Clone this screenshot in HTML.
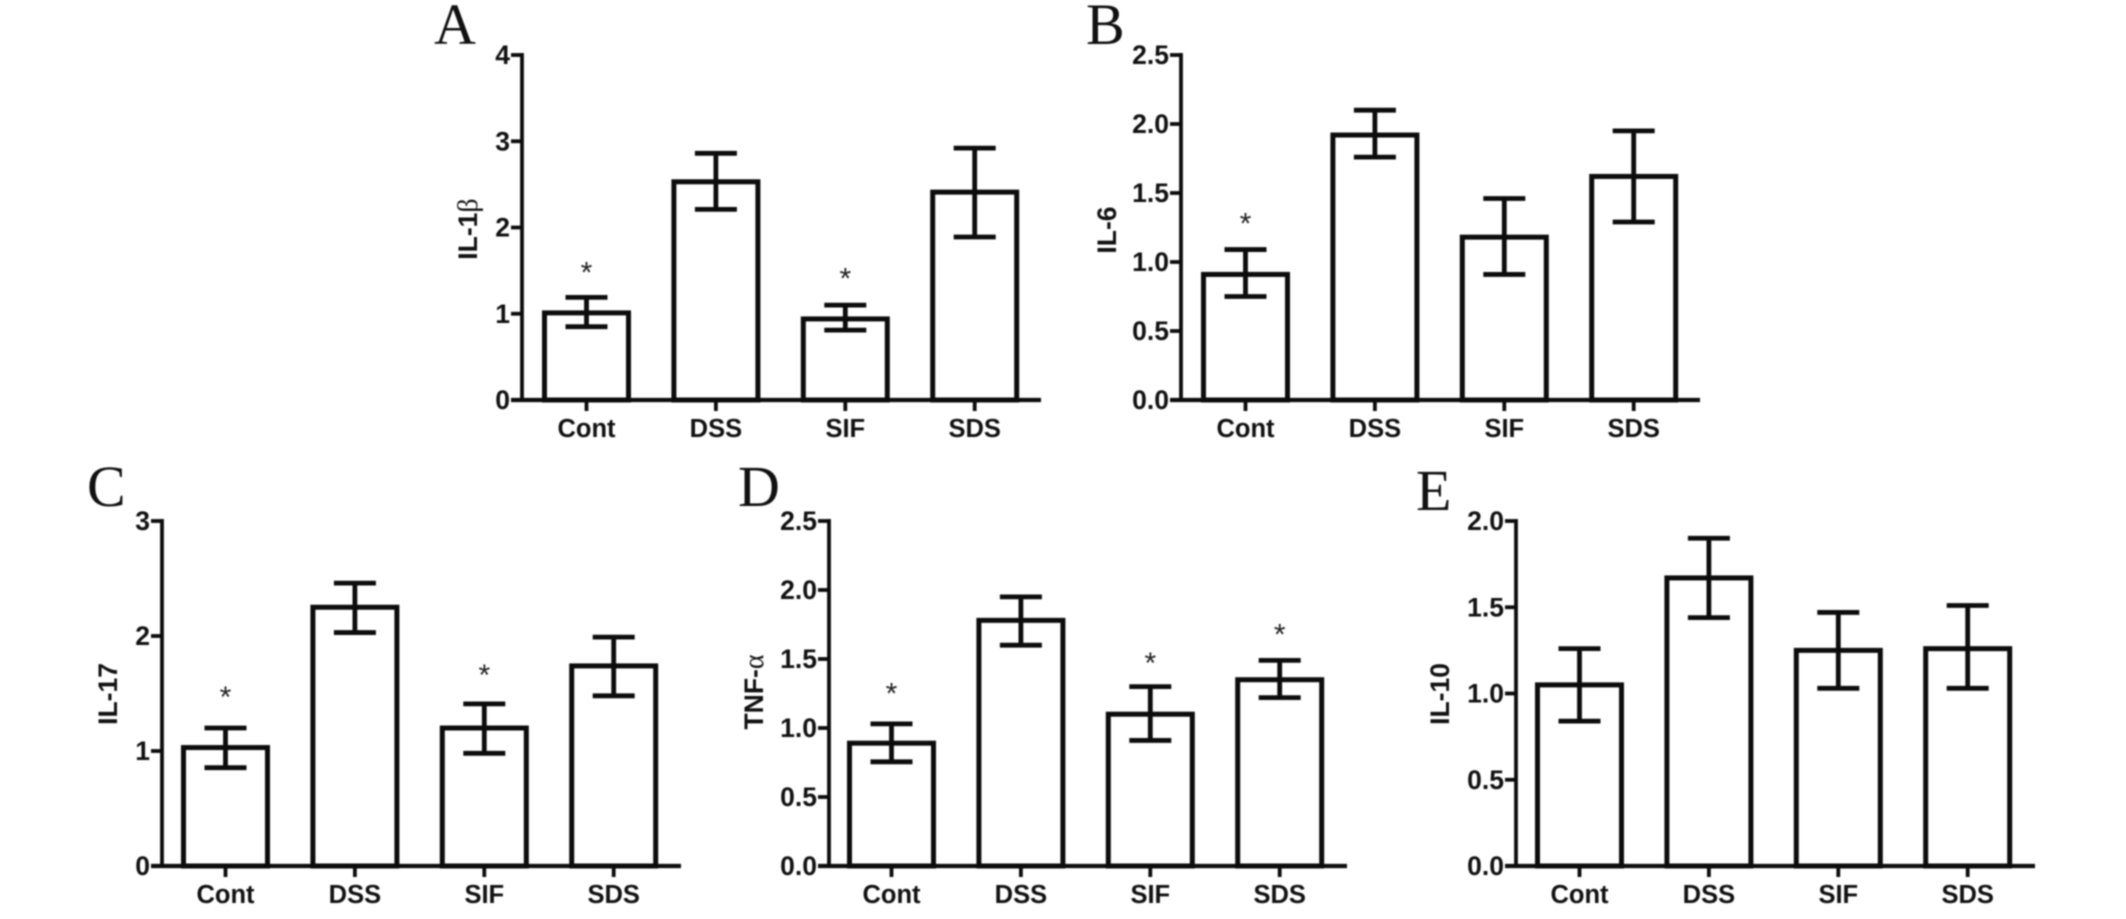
<!DOCTYPE html>
<html lang="en">
<head>
<meta charset="utf-8">
<title>Cytokine bar charts</title>
<style>
  html, body { margin: 0; padding: 0; background: #fff; }
  body { width: 2126px; height: 919px; overflow: hidden; }
  svg { display: block; filter: blur(0.7px); }
  .tick { font: bold 25.5px "Liberation Sans", sans-serif; fill: #111; }
  .ytick { font: bold 26.5px "Liberation Sans", sans-serif; fill: #111; }
  .ytitle { font: bold 26.5px "Liberation Sans", sans-serif; fill: #111; }
  .greek { font: normal 28px "Liberation Serif", "DejaVu Serif", serif; }
  .letter { font: normal 58px "Liberation Serif", serif; fill: #111; }
  .star { font: normal 30px "Liberation Sans", sans-serif; fill: #222; }
</style>
</head>
<body>
<svg id="figure" xmlns="http://www.w3.org/2000/svg" width="2126" height="919" viewBox="0 0 2126 919">
  <rect width="2126" height="919" fill="#fff"/>
</svg>
<script>
const categories = ["Cont", "DSS", "SIF", "SDS"];

const il1bTicks = ["0", "1", "2", "3", "4"];
const il1bMeans = [1.01, 2.53, 0.94, 2.41];
const il1bUpper = [1.19, 2.86, 1.10, 2.92];
const il1bLower = [0.85, 2.21, 0.81, 1.89];
const il1bStars = [1.56, null, 1.49, null];

const il6Ticks = ["0.0", "0.5", "1.0", "1.5", "2.0", "2.5"];
const il6Means = [0.91, 1.92, 1.18, 1.62];
const il6Upper = [1.09, 2.10, 1.46, 1.95];
const il6Lower = [0.75, 1.76, 0.91, 1.29];
const il6Stars = [1.33, null, null, null];

const il17Ticks = ["0", "1", "2", "3"];
const il17Means = [1.03, 2.25, 1.20, 1.74];
const il17Upper = [1.20, 2.46, 1.41, 1.99];
const il17Lower = [0.855, 2.03, 0.98, 1.48];
const il17Stars = [1.53, null, 1.72, null];

const tnfTicks = ["0.0", "0.5", "1.0", "1.5", "2.0", "2.5"];
const tnfMeans = [0.89, 1.78, 1.10, 1.35];
const tnfUpper = [1.03, 1.95, 1.30, 1.49];
const tnfLower = [0.755, 1.60, 0.91, 1.22];
const tnfStars = [1.30, null, 1.52, 1.73];

const il10Ticks = ["0.0", "0.5", "1.0", "1.5", "2.0"];
const il10Means = [1.05, 1.67, 1.25, 1.26];
const il10Upper = [1.26, 1.90, 1.47, 1.51];
const il10Lower = [0.84, 1.44, 1.03, 1.03];
const il10Stars = [null, null, null, null];

const NS = "http://www.w3.org/2000/svg";
const figure = document.getElementById("figure");
const INK = "#0c0c0c";

function make(parent, tag, attrs, text) {
  const el = document.createElementNS(NS, tag);
  for (const k in attrs) el.setAttribute(k, attrs[k]);
  if (text !== undefined) el.textContent = text;
  parent.appendChild(el);
  return el;
}

function drawPanel(p) {
  const g = make(figure, "g", {});
  
  

  const maxTick = parseFloat(p.ticks[p.ticks.length - 1]);
  const yScale = v => p.base - (v / maxTick) * (p.base - p.top);
  const xScale = i => p.x0 + i * 129.4;

  const letter = make(g, "text", { x: p.lx, y: p.ly, class: "letter" }, p.letter);
  
  

  categories.forEach((cat, i) => {
    const cx = xScale(i);
    const yTop = yScale(p.means[i]);
    const bar = make(g, "rect", {
      x: cx - 42, y: yTop, width: 84, height: p.base - yTop,
      fill: "#fff", stroke: INK, "stroke-width": 5
    });
    
    

    const yHi = yScale(p.upper[i]);
    const yLo = yScale(p.lower[i]);
    const err = make(g, "path", {
      d: "M" + (cx - 21) + " " + yHi + "H" + (cx + 21) +
         "M" + cx + " " + yHi + "V" + yLo +
         "M" + (cx - 21) + " " + yLo + "H" + (cx + 21),
      fill: "none", stroke: INK, "stroke-width": 4.8
    });
    
    

    if (p.stars[i] !== null) {
      const star = make(g, "text", {
        x: cx, y: yScale(p.stars[i]) + 17, "text-anchor": "middle", class: "star"
      }, "*");
      
      
    }

    const xt = make(g, "line", {
      x1: cx, x2: cx, y1: p.base, y2: p.base + 11, stroke: INK, "stroke-width": 3.8
    });
    
    

    const xl = make(g, "text", {
      x: cx, y: p.base + 37, "text-anchor": "middle", class: "tick"
    }, cat);
    
    
  });

  const yAxis = make(g, "line", {
    x1: p.axis, x2: p.axis, y1: p.top - 2, y2: p.base + 2, stroke: INK, "stroke-width": 3.8
  });
  
  

  const xAxis = make(g, "line", {
    x1: p.axis - 11, x2: p.end, y1: p.base, y2: p.base, stroke: INK, "stroke-width": 4.2
  });
  
  

  p.ticks.forEach(label => {
    const y = yScale(parseFloat(label));
    const yt = make(g, "line", {
      x1: p.axis - 11, x2: p.axis, y1: y, y2: y, stroke: INK, "stroke-width": 3.8
    });
    
    

    const yl = make(g, "text", {
      x: p.axis - 12, y: y + 9, "text-anchor": "end", class: "ytick"
    }, label);
    
    
  });

  const title = make(g, "text", {
    transform: "translate(" + p.tx + " " + p.ty + ") rotate(-90)",
    "text-anchor": "middle", class: "ytitle"
  }, p.title);
  
  
  if (p.greek) {
    const greek = make(title, "tspan", { class: "greek" }, p.greek);
    
    
  }
}

drawPanel({ id: "a", letter: "A", lx: 434, ly: 44, title: "IL-1", greek: "β", tx: 477, ty: 229,
  axis: 522, x0: 586.5, end: 1041, top: 55, base: 400,
  ticks: il1bTicks, means: il1bMeans, upper: il1bUpper, lower: il1bLower, stars: il1bStars });

drawPanel({ id: "b", letter: "B", lx: 1086, ly: 44, title: "IL-6", tx: 1116, ty: 230,
  axis: 1181, x0: 1245.5, end: 1700, top: 55, base: 400,
  ticks: il6Ticks, means: il6Means, upper: il6Upper, lower: il6Lower, stars: il6Stars });

drawPanel({ id: "c", letter: "C", lx: 87, ly: 506, title: "IL-17", tx: 117, ty: 694,
  axis: 162, x0: 225.5, end: 681, top: 521, base: 866,
  ticks: il17Ticks, means: il17Means, upper: il17Upper, lower: il17Lower, stars: il17Stars });

drawPanel({ id: "d", letter: "D", lx: 738, ly: 506, title: "TNF-", greek: "α", tx: 763, ty: 692,
  axis: 829, x0: 891.5, end: 1347, top: 521, base: 866,
  ticks: tnfTicks, means: tnfMeans, upper: tnfUpper, lower: tnfLower, stars: tnfStars });

drawPanel({ id: "e", letter: "E", lx: 1416, ly: 510, title: "IL-10", tx: 1449, ty: 694,
  axis: 1516, x0: 1579.5, end: 2035, top: 521, base: 866,
  ticks: il10Ticks, means: il10Means, upper: il10Upper, lower: il10Lower, stars: il10Stars });
</script>
</body>
</html>
